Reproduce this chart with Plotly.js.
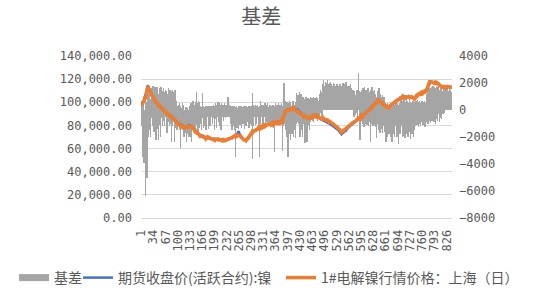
<!DOCTYPE html>
<html><head><meta charset="utf-8">
<script src="https://cdn.plot.ly/plotly-3.0.1.min.js"></script>
<style>html,body{margin:0;padding:0;background:#fff}#chart{width:550px;height:300px}</style>
</head><body><div id="chart"></div>
<script>
const tickLabels = [1,34,67,100,133,166,199,232,265,298,331,364,397,430,463,496,529,562,595,628,661,694,727,760,793,826];

const basis = [
300,-1200,700,-3500,-800,500,-2600,900,-3900,-1500,
-400,800,-6400,-2200,600,-1800,-5000,1000,-2000,-900,
1200,-1500,400,1500,-1100,800,-2000,1300,-600,1600,
-1200,900,1800,-800,1400,-1600,600,1700,-1000,1200,
-2200,1500,-900,1700,300,-1400,1200,-2200,800,1600,
-1100,1300,-2000,900,1700,-600,1400,-1200,1100,500,
-800,1600,400,-1200,1300,-500,1500,200,-1000,1400,
-1700,1200,600,-900,1600,-400,1100,-1200,1500,300,
-1000,1400,-2400,900,1500,-1200,600,1300,-800,1100,
-2400,1500,-600,1000,-1300,700,500,-1500,300,-900,
400,-1200,200,-1500,500,-700,-2800,300,-1400,100,
-1000,500,-1500,-300,400,-1200,-2000,-100,-1700,-800,
-1300,200,-2400,-900,-1800,100,-1500,-2000,-600,-1700,
-1200,300,-2000,-800,-1600,500,-2400,-1000,700,-1500,
200,-1300,700,-1600,400,-900,600,-1400,300,1000,
1300,-1100,500,-1600,700,-800,400,-1300,600,-1000,
300,-500,200,-1500,-400,1250,-600,100,-1300,300,
-500,200,-1200,300,-400,-1500,200,-600,300,-500,
200,-1400,-400,300,-500,100,-1200,300,-600,200,
-500,300,-1000,100,-400,400,-600,200,-1500,300,
-400,500,-700,300,-1300,400,-500,600,-900,300,
-600,500,-1200,400,-400,300,-1500,500,-500,200,
-400,400,-800,300,-500,500,-300,200,-600,400,
-400,300,-500,600,1000,-300,200,-500,400,-400,
300,-600,200,-1000,300,-1500,100,-500,300,-1200,
200,-700,300,-1500,-400,-3500,200,-900,300,-1300,
100,-600,300,-1400,200,-500,300,-1100,200,-400,
300,-1300,200,-500,100,-1000,300,-600,200,-1400,
300,-500,200,-1200,300,-400,200,-900,100,-500,
300,-1300,200,-600,300,-1000,200,-500,-1200,300,
-3600,1250,-800,400,-1200,300,-500,200,-1100,400,
-600,300,-1000,200,-500,400,-1300,200,-600,-3500,
300,-700,700,-1000,300,-500,400,-1200,200,-600,
400,-1000,300,-500,500,-1100,200,-700,400,-900,
300,-600,500,-1000,200,-500,400,-1100,300,-700,
400,-900,300,-500,200,-1000,400,-600,300,-1300,
-3100,300,-800,500,-1000,200,-600,400,-900,300,
-500,500,-1000,300,-700,400,-1100,200,-600,500,
-900,-3000,300,-1200,500,-700,1970,-1000,400,-800,
700,-1500,300,-2000,600,-1200,400,-3480,500,-1800,
700,-1500,400,-2200,600,-1000,300,-1800,700,-1300,
500,-2000,700,-1500,400,-1200,600,-2100,300,-1000,
1250,-900,800,-700,1100,-1000,600,-500,1350,-2000,
900,-800,1200,-1500,700,-600,-2000,1000,-900,500,
-1000,800,-2470,600,-700,1000,-1200,500,-2400,700,
-800,900,-1100,600,-1500,800,-700,1000,-900,400,
-600,900,-800,700,-400,1000,-870,500,-600,900,
-500,800,-700,1000,-400,600,-800,900,-300,700,
-600,1000,-400,1200,-200,1500,300,1300,-500,1600,
1500,1900,1300,2200,1600,1800,1400,2100,1700,1500,
2000,1600,1800,2200,1500,1900,1700,1400,2000,1600,
1800,1500,2100,1700,1900,1300,1600,1800,1500,2000,
1700,1400,1900,1600,1500,1800,1300,1700,1500,1900,
1600,1400,1800,1500,1700,1300,1600,1900,1400,1700,
1500,1800,1600,1300,1700,2000,1500,1800,1600,1400,
1900,1500,1700,2100,1600,1400,1800,1500,1700,1300,
1600,1800,1400,1700,1500,1900,1300,1600,1200,1500,
1300,1000,1500,-300,1200,-500,900,1400,-400,1100,
-200,1300,600,1500,-500,1000,800,2720,1200,-600,
1400,-2240,900,1300,-800,1500,-400,1100,-1000,1600,
-700,1300,-1250,1700,-500,1200,-1000,1500,-800,1400,
-1100,1000,-600,1600,-1200,1300,-900,1100,-700,1500,
-2370,1200,-1000,1700,-800,1000,-1200,1400,-600,1300,
-1100,1500,-900,1200,-1250,-2100,1000,-800,1400,-1000,
1240,-1500,1600,-1000,900,-1740,1200,-600,1000,-1400,
800,-1700,1100,-900,600,-1200,1000,-1600,700,-1000,
500,-2360,300,-1500,400,-2000,500,-1200,300,-1800,
400,-1600,200,-2000,500,-1300,300,-2360,400,-1500,
500,-1800,300,-1400,400,-2000,200,-1200,500,-1700,
300,-2000,500,-1500,400,-2500,200,-1300,500,-1800,
400,-1600,870,-1200,500,-2000,700,-1400,300,-1900,
800,-1500,400,-2100,600,-1200,870,-1800,300,-1300,
700,-2000,500,-1600,800,-1100,400,-2120,600,-1400,
500,-1800,700,-1200,300,-2000,800,-1500,400,-1000,
600,-1200,700,-900,500,-1100,740,-800,400,-1240,
600,-1000,700,-700,500,-1200,300,-900,700,-600,
500,-1100,600,-800,400,-1000,700,-1240,500,-700,
800,-900,1200,-600,1500,-1000,1860,-500,1300,-800,
1600,-990,1200,-500,1700,-800,1400,-300,1800,-600,
1500,-900,1700,-400,1300,-1000,1600,-700,1800,-500,
1400,-800,1700,-300,1500,-900,1200,-600,1600,-400,
1300,-700,1700,500,1400,-300,1600,600,1200,-200,
1500,600,1700,800,1300,500,1600,700,1200,500,
1400,700,1600,500,1200,800,1500,600,1300,700
];

const futuresClose = [
98200,97600,99000,98500,100100,99400,101200,100500,102000,103100,
104500,106200,105400,107800,109600,110800,112500,113200,114600,114000,
113100,112400,111800,110200,109500,108100,108400,107200,106500,105800,
105100,104200,104800,103500,102600,103100,101900,101200,100400,100800,
99600,99000,99800,98700,98100,98600,97700,97200,97900,97000,
96400,96800,95900,95300,95800,94900,94400,94800,93900,93500,
93100,93600,92700,92200,92600,91800,91300,91700,91000,90600,
90900,90200,89800,90300,89500,89100,89000,88400,88000,88500,
87700,87300,87600,86900,86400,86700,86000,85500,85800,85100,
84600,84900,84200,83700,83400,83000,82600,82900,82200,81800,
82100,81500,81100,80800,81200,80600,80300,80700,80000,79700,
80100,79400,79000,79500,78900,78600,79100,78400,78800,78200,
78600,78300,78500,78900,79300,79000,79600,79900,79400,79800,
79500,80000,79600,79100,79400,78800,78500,78900,78100,77900,
77800,77200,76800,76400,75900,75600,75100,74800,74400,74000,
73600,73900,73200,72800,72500,72900,72000,71500,71800,71200,
71000,71400,70800,70500,70900,70300,70100,70600,70000,69800,
70200,69700,69900,69400,69800,69300,69600,69100,69500,69000,
69300,68800,69200,69000,68700,69100,68600,68400,68800,68300,
68500,68000,68400,67900,68200,68000,67700,68100,67800,68300,
68000,67600,68200,67900,68400,67800,68100,68000,67700,68300,
67900,67500,67800,67400,67900,67600,67300,67700,67400,67500,
67100,67500,67200,66900,67300,67000,67400,66800,67100,67200,
67200,67600,67300,67800,68000,67700,68200,68400,68500,68900,
68700,69200,69000,69500,69300,69800,69600,70100,70000,70300,
70600,70400,70900,70700,71200,71000,70800,71000,71400,71800,
72400,73300,74200,75000,74300,73500,72600,71600,70900,70500,
70000,69500,69200,69000,68600,68200,68500,67900,67600,67800,
67400,67600,67200,67500,67300,67700,68100,68500,68900,69400,
69800,70200,70000,70800,71500,72100,72800,73300,73900,74200,
74000,74600,74400,74900,75300,75100,75600,75400,75900,75700,
76000,76200,76500,76300,76800,77000,76900,77300,77500,77600,
77900,78200,78000,78400,78700,78500,78900,79000,79300,79100,
79500,79700,79400,79800,80000,79900,80300,80100,80200,80500,
80300,80700,80500,80800,80600,81000,80800,81200,81000,81100,
81400,81200,81600,81300,81700,81500,81900,81700,82100,82000,
82300,82100,82500,82200,82400,82600,82300,82700,82400,82600,
82500,82800,82600,82900,82700,83000,82800,83200,83000,83600,
84200,84900,85600,86300,86800,87900,88800,89900,90900,91700,
92400,92800,93000,93300,93100,93500,93800,93600,94000,93900,
94000,94300,94100,94500,94700,94400,94800,95100,94900,95200,
95000,95300,94900,94600,94800,94200,94000,94300,93900,93600,
93800,93400,93100,93500,93000,92600,92200,91800,91500,91100,
90800,90400,90600,90000,89700,89400,89100,88900,88600,88300,
88000,88200,87800,87500,87700,87300,87000,87200,86800,86500,
86700,86300,86100,86400,86000,86200,86500,86300,86700,86900,
87100,86900,87300,87500,87400,87800,88000,88300,88100,88500,
88700,88500,88900,89000,88700,88400,88000,87600,87200,86800,
86500,86600,86200,85900,85600,85800,85400,85100,84900,85000,
84700,84500,84200,84400,84000,83700,83900,83500,83200,83300,
83000,82800,83100,82600,82400,82700,82300,82100,82000,81700,
81500,81200,81000,80800,80500,80600,80200,80000,79700,79300,
79000,78800,78500,78200,78000,77700,77900,77600,77200,76900,
76600,76300,76000,75700,75400,75100,74600,74200,73800,73400,
73000,72500,73000,73100,73200,73300,73600,73900,74400,74900,
74700,75300,75600,75400,76300,76800,76600,77400,77500,78200,
78200,78400,79000,79000,79400,79400,80100,80100,80600,80600,
80900,81300,81500,81800,82100,82400,82700,83000,83300,83600,
83900,84200,84500,84700,85000,85300,85500,85800,86000,86200,
86500,86700,87000,87200,87500,87700,88000,88200,88400,88700,
88900,89200,89400,89700,89900,90100,90300,90600,90800,91100,
91400,91700,92000,92300,92600,92900,93200,93600,94000,94300,
94600,94900,95200,95500,95700,96000,96300,96800,97300,97800,
98300,98800,99300,99800,100200,100600,101000,101400,101700,102000,
102100,101800,101400,101100,100700,100400,100100,99900,99700,99500,
99200,98900,98600,98400,98100,97900,97700,97500,97300,97100,
96900,96700,96500,96400,96200,96100,96000,96000,96200,96400,
96600,96800,97000,97300,97500,97800,98000,98300,98600,98900,
99200,99500,99800,100100,100400,100600,100800,101000,101200,101500,
101700,101900,102100,102300,102500,102700,102900,103200,103400,103700,
103900,104300,104400,104800,104700,105000,104900,105200,104900,105100,
105200,104900,105000,104800,105000,104700,104900,104600,104800,104500,
104700,104400,104600,104300,104500,104200,104400,104000,104200,103900,
104100,103800,104000,103700,103900,103500,103700,103400,103700,103900,
104100,104500,104700,105100,105300,105700,105800,106200,106100,106400,
106700,106900,107200,107400,107700,107800,108100,108000,108300,108200,
108400,108300,108600,108400,108700,108500,108800,108900,109200,109300,
109500,110200,111300,112000,113100,113700,114500,115100,116200,116900,
117900,117700,117800,117600,117700,117400,117600,117200,117300,117000,
117100,116800,117000,116600,116800,116400,116700,116300,116400,116000,
115900,115600,115500,115200,115100,114900,114800,114500,114500,114200,
114200,113900,113900,113600,113600,113400,113300,113000,112900,112600,
112500,112200,112000,112300,112400,112800,112900,113300,113300,113600,
113200,113100,112800,112800,112700,112600,112400,112700,112300,112500
];

const spotPrice = [
97800,97900,98200,98300,99100,99600,100500,100200,101100,102500,
104000,105000,102900,106900,108600,109400,110300,112100,112800,112700,
112200,111800,111500,110600,109000,108400,107700,107700,106300,106400,
104700,104500,105400,103200,103100,102500,102100,101900,100000,101200,
98800,99500,99500,99300,98100,98100,98100,96400,98200,97600,
96000,97200,95200,95600,96400,94700,94900,94400,94300,93700,
92800,94200,92800,91800,93100,91600,91800,91700,90600,91100,
90300,90600,90000,90000,90100,88900,89400,87900,88500,88600,
87300,87800,86700,87200,87000,86200,86200,86000,85500,85500,
83700,85500,84000,84100,82900,83300,82800,82300,82300,81500,
82300,81000,81200,80200,81500,80300,79200,80800,79500,79700,
79700,79600,78400,79400,79100,78100,78300,78400,78100,77900,
78100,78400,77500,78500,78600,79000,79000,79100,79100,79100,
79000,79200,78700,78700,78700,79000,77500,78500,78400,77300,
77900,76700,77100,75700,76100,75200,75400,74200,74500,74400,
74100,73400,73400,72100,72800,72600,72200,70900,72100,70800,
71100,71200,70900,69800,70700,70800,69800,70600,69400,69900,
70000,69800,69400,69500,69600,68600,69700,68800,69600,68800,
69400,68200,69000,69100,68500,69100,68100,68500,68500,68400,
68300,68100,68000,67900,68000,68200,67400,68200,67100,68400,
67800,67800,67900,68000,67800,68000,67900,68300,67300,68400,
67600,67700,67300,67600,67700,67700,66600,67900,67200,67600,
66900,67700,66800,67000,67100,67200,67300,66900,66800,67400,
67000,67700,67100,68100,68500,67600,68300,68200,68700,68700,
68800,68900,69100,69000,69400,69100,69600,69900,70100,69700,
70700,70100,71000,70000,71000,69300,70900,70600,71500,71200,
71600,71300,71400,71100,71500,71300,71100,70700,70500,70300,
70100,68900,69300,68800,68600,67700,68600,67600,67700,67100,
67500,67400,67300,66900,67400,67500,68200,68100,68900,69200,
69900,69600,70100,70500,71600,71600,72900,73100,73300,74300,
72300,75200,74000,75100,74700,75200,75400,75500,75400,75900,
75700,76300,76000,76400,76600,77200,76300,77400,77200,75900,
78000,77900,78300,77900,78800,78300,79100,78400,79400,78800,
79700,79200,79500,79600,80200,79400,80400,79800,80400,80100,
80400,80400,80700,80300,80700,80800,81000,80700,81100,80800,
81600,80800,81700,81100,81800,81000,82100,81400,82200,81400,
80800,82200,82100,82400,81900,82700,82000,82900,82000,82700,
82300,83000,82100,83000,82400,83200,82300,83300,82700,83800,
83800,83400,85700,85700,87000,87600,89800,89400,91100,91300,
92700,92100,93100,92300,93400,92900,94000,91900,94200,93000,
94300,93600,94300,93400,95000,93900,94900,94200,95200,94600,
95200,94300,95200,93900,95000,93600,94300,93300,94000,93100,
93000,91900,92100,91900,92100,91200,91100,90500,90800,89300,
90400,90100,90800,89300,90000,89100,88200,89300,88200,88500,
87500,88600,86600,87800,87400,87800,86400,87400,85700,86800,
86300,86700,85600,86700,85300,86600,86200,86800,86300,87100,
86800,87300,86900,87800,87200,88300,87600,88500,87800,88900,
88500,88900,88600,89500,88500,88700,87600,88000,87100,87100,
86200,87100,86000,86500,85500,86500,85600,85700,84700,85800,
86200,86400,85500,86600,85600,85500,85300,85600,84900,84800,
85000,84400,84900,84800,83900,84600,84000,83500,84000,83300,
83300,82700,83100,82500,82400,81900,81800,81800,81200,81300,
80700,80200,80400,79800,79500,79500,79200,79300,78700,78800,
78200,77700,77800,77200,77100,76400,76200,76100,75200,75100,
74500,74300,74600,74400,74900,75300,75100,75700,76000,76300,
76600,76800,77300,77500,77900,78200,78400,78900,79200,79500,
79800,80200,80400,80700,80900,81300,81400,81700,81800,82100,
82200,82300,82300,81600,83000,82100,83400,84000,83000,84400,
83700,85000,84900,85600,84700,85900,86000,87400,86700,85800,
87300,85400,87500,87900,87000,88600,87800,88800,87800,89600,
88500,89900,88700,90600,89600,90700,89700,91400,90400,91800,
90800,92200,91700,93100,91900,93600,92700,94200,93600,95100,
93300,95500,94700,96400,95300,96500,95700,97500,97000,98500,
97700,99600,98800,100400,99500,99400,101500,101000,102400,101500,
102700,101000,102200,100600,101100,99500,100700,99600,100200,98800,
99600,98000,99100,97900,98400,97300,98200,96700,97600,96600,
97100,95500,96600,95700,96400,95100,96200,95400,96300,95500,
96800,96000,97100,96300,97700,97200,98100,97100,98800,98200,
99400,98600,99900,99400,100600,99600,100900,100400,101400,100700,
101800,100900,102300,101600,102700,101500,103000,102600,103600,102800,
104100,103500,104800,104200,104900,104000,105200,104500,105000,104200,
105600,104200,105200,103800,105300,104100,105300,103700,104900,103900,
105000,103400,104800,103500,104900,103700,104600,103000,104500,103200,
104300,102900,104300,103100,104000,102500,104100,102700,103900,103400,
104400,103900,105000,104700,105500,105200,106200,105800,106300,105800,
107000,106400,107500,107100,107900,107200,108200,107600,108600,107900,
108600,107800,108900,108000,108900,108000,109100,108300,109400,109000,
109900,109800,111900,111700,113800,113200,115400,114900,116800,116500,
118700,117200,118400,117400,118600,117000,118300,117100,118200,116700,
117800,116400,117800,116400,117400,115900,117500,116000,117300,115800,
116600,115200,116300,115100,115800,114500,115400,114200,115300,114000,
114800,113600,114700,113900,114300,113300,114100,113300,113500,112500,
113200,112500,112800,112700,113000,113100,113700,113600,113900,113900,
113900,113400,113600,113100,113300,113000,113100,113000,112900,112900
];

const dayIndex = basis.map((_, i) => i + 1);

const axisFont = {family: 'DejaVu Sans Mono', size: 12, color: '#595959'};
const cjkFont = 'Noto Sans CJK SC';
const legendFont = {family: cjkFont, size: 14, color: '#595959'};

const traces = [
  {type: 'scatter', mode: 'lines', x: [null], y: [null], name: '基差', legend: 'legend',
   line: {color: '#A5A5A5', width: 7}, hoverinfo: 'skip', yaxis: 'y'},
  {type: 'bar', x: dayIndex, y: basis, name: '基差', showlegend: false,
   marker: {color: '#A5A5A5', line: {width: 0}}, yaxis: 'y'},
  {type: 'scatter', mode: 'lines', x: dayIndex, y: futuresClose, name: '期货收盘价(活跃合约):镍',
   legend: 'legend2', line: {color: '#4472C4', width: 2.5}, yaxis: 'y2'},
  {type: 'scatter', mode: 'lines', x: dayIndex, y: spotPrice, name: '1#电解镍行情价格：上海（日）',
   legend: 'legend3', line: {color: '#ED7D31', width: 3.5}, yaxis: 'y2'}
];

function legendAt(px) {
  return {orientation: 'h', xref: 'container', yref: 'container', x: px / 550, xanchor: 'left',
          y: 1 - 278 / 300, yanchor: 'middle', font: legendFont, bgcolor: 'rgba(0,0,0,0)',
          borderwidth: 0};
}

const layout = {
  width: 550, height: 300,
  margin: {l: 141, r: 98, t: 56, b: 82, pad: 0},
  paper_bgcolor: '#ffffff', plot_bgcolor: '#ffffff',
  title: {text: '基差', font: {family: cjkFont, size: 20, color: '#595959'},
          x: 0.475, xanchor: 'center', y: 0.942, yanchor: 'middle'},
  bargap: 0,
  showlegend: true,
  legend: legendAt(14),
  legend2: legendAt(78),
  legend3: legendAt(281),
  xaxis: {type: 'linear', range: [0.5, dayIndex.length + 0.5], tickmode: 'array',
          tickvals: tickLabels, ticktext: tickLabels.map(String), tickangle: -90,
          tickfont: axisFont, showgrid: false, zeroline: false, showline: true,
          linecolor: '#D9D9D9', linewidth: 1, ticks: '', ticklabelstandoff: 6},
  yaxis: {side: 'right', range: [-8000, 4000], dtick: 2000, tick0: 0, tickformat: 'd',
          showgrid: false, zeroline: false, showline: false, ticks: '',
          tickfont: axisFont, ticklabelstandoff: 6},
  yaxis2: {overlaying: 'y', side: 'left', range: [0, 140000], dtick: 20000, tick0: 0,
           tickformat: ',.2f', showgrid: true, gridcolor: '#D9D9D9', gridwidth: 1,
           zeroline: false, showline: false, ticks: '', tickfont: axisFont, ticklabelstandoff: 8}
};

Plotly.newPlot('chart', traces, layout, {displayModeBar: false, responsive: false});
</script>
</body></html>
